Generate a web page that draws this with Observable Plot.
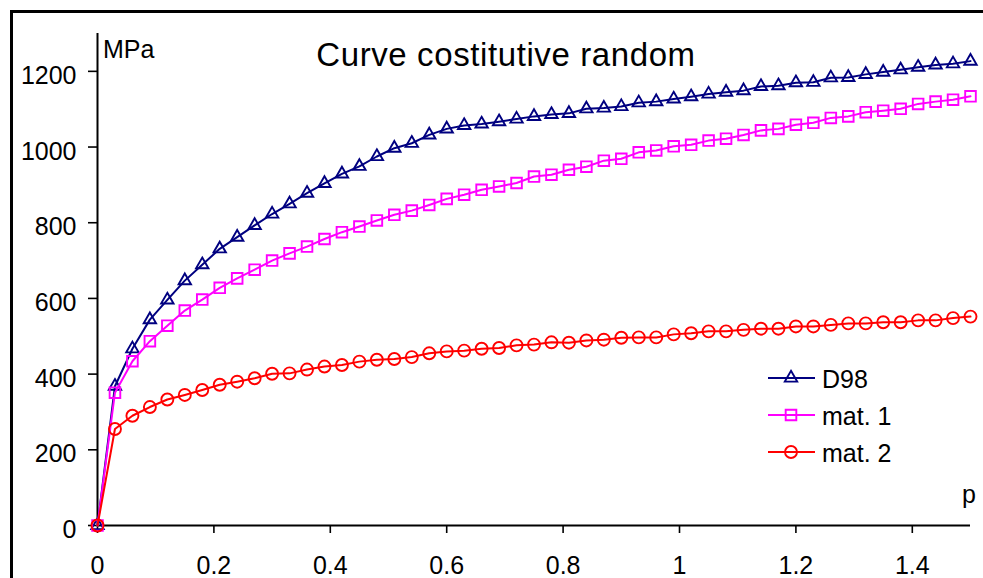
<!DOCTYPE html>
<html>
<head>
<meta charset="utf-8">
<script src="https://cdn.jsdelivr.net/npm/d3@7"></script>
<script src="https://cdn.jsdelivr.net/npm/@observablehq/plot@0.6"></script>
<style>
  html, body { margin: 0; padding: 0; background: #fff; overflow: hidden; }
  #wrap { position: relative; width: 983px; height: 578px; overflow: hidden; }
  #frame { position: absolute; left: 10px; top: 10px; width: 1200px; height: 1200px;
           border-left: 3px solid #000; border-top: 3px solid #000; pointer-events: none; }
  svg { display: block; }
</style>
</head>
<body>
<div id="wrap"></div>
<script>
// ---- data ----
const p = [0, 0.03, 0.06, 0.09, 0.12, 0.15, 0.18, 0.21, 0.24, 0.27,
           0.30, 0.33, 0.36, 0.39, 0.42, 0.45, 0.48, 0.51, 0.54, 0.57,
           0.60, 0.63, 0.66, 0.69, 0.72, 0.75, 0.78, 0.81, 0.84, 0.87,
           0.90, 0.93, 0.96, 0.99, 1.02, 1.05, 1.08, 1.11, 1.14, 1.17,
           1.20, 1.23, 1.26, 1.29, 1.32, 1.35, 1.38, 1.41, 1.44, 1.47, 1.50];

const d98 = [0, 368, 467, 544, 596, 647, 689, 731, 762, 793,
             823, 850, 878, 904, 929, 949, 975, 997, 1010, 1032,
             1048, 1057, 1061, 1067, 1074, 1081, 1086, 1089, 1101, 1103,
             1107, 1117, 1120, 1127, 1133, 1140, 1145, 1149, 1160, 1162,
             1170, 1171, 1183, 1184, 1192, 1198, 1204, 1211, 1217, 1220, 1227];

const mat1 = [0, 351, 434, 487, 528, 568, 597, 628, 653, 676,
              700, 719, 737, 757, 775, 790, 806, 821, 832, 847,
              863, 874, 887, 896, 905, 922, 927, 940, 948, 964,
              969, 986, 991, 1002, 1006, 1017, 1022, 1032, 1044, 1048,
              1059, 1064, 1077, 1081, 1092, 1096, 1101, 1114, 1120, 1125, 1134];

const mat2 = [0, 255, 290, 313, 333, 345, 358, 372, 380, 389,
              401, 402, 412, 420, 424, 433, 438, 440, 445, 455,
              460, 462, 467, 469, 476, 478, 484, 483, 489, 491,
              496, 497, 497, 505, 508, 513, 513, 517, 520, 520,
              526, 526, 530, 534, 534, 537, 537, 542, 542, 548, 552];

const seriesNames = ["D98", "mat. 1", "mat. 2"];
const seriesColors = ["#000080", "#ff00ff", "#ff0000"];
const seriesSymbols = ["triangle", "square", "circle"];
const seriesRadius = [4.6, 6.0, 6.0];

const xTicks = [0, 0.2, 0.4, 0.6, 0.8, 1, 1.2, 1.4];
const yTicks = [0, 200, 400, 600, 800, 1000, 1200];

const titleText = "Curve costitutive random";
const yUnitText = "MPa";
const xUnitText = "p";

// ---- build table ----
const allSeries = [d98, mat1, mat2];
const rows = [];
allSeries.forEach((vals, s) => vals.forEach((v, i) => rows.push({p: p[i], v, series: seriesNames[s]})));

const FONT = "'Liberation Sans', Arial, Helvetica, sans-serif";

const seriesMarks = [];
seriesNames.forEach((name, s) => {
  const data = rows.filter(d => d.series === name);
  seriesMarks.push(Plot.line(data, {x: "p", y: "v", stroke: seriesColors[s], strokeWidth: 2}));
  seriesMarks.push(Plot.dot(data, {x: "p", y: "v", stroke: seriesColors[s], fill: "none",
    symbol: seriesSymbols[s], r: seriesRadius[s], strokeWidth: 1.9}));
});

const chart = Plot.plot({
  width: 983,
  height: 578,
  marginLeft: 97,
  marginRight: 13,
  marginTop: 33,
  marginBottom: 53,
  style: {fontFamily: FONT, fontSize: "25px", color: "#000", background: "transparent", overflow: "visible"},
  x: {domain: [0, 1.5], label: null},
  y: {domain: [0, 1300], label: null},
  marks: [
    // tick marks only
    Plot.axisY({ticks: yTicks, tickSize: 9, fill: "none", strokeWidth: 1.6, label: null}),
    Plot.axisX({ticks: xTicks, tickSize: 8, fill: "none", strokeWidth: 1.6, label: null}),
    // tick labels only
    Plot.axisY({ticks: yTicks, tickSize: 0, tickPadding: 21, dy: 4.5, fontSize: 25,
      tickFormat: d => String(d), label: null}),
    Plot.axisX({ticks: xTicks, tickSize: 0, tickPadding: 31, fontSize: 25,
      tickFormat: d => String(d), label: null}),
    // axis lines
    Plot.ruleX([0], {stroke: "#000", strokeWidth: 2}),
    Plot.ruleY([0], {stroke: "#000", strokeWidth: 2}),
    ...seriesMarks
  ]
});

const svg = d3.select(chart);
svg.style("font-family", FONT);

// title
svg.append("text")
  .attr("x", 506).attr("y", 66)
  .attr("text-anchor", "middle")
  .attr("font-size", 33)
  .attr("letter-spacing", "0.6px")
  .attr("fill", "#000")
  .text(titleText);

// axis units
svg.append("text").attr("x", 103).attr("y", 58).attr("text-anchor", "start")
  .attr("font-size", 25).attr("fill", "#000").text(yUnitText);
svg.append("text").attr("x", 962).attr("y", 503).attr("text-anchor", "start")
  .attr("font-size", 25).attr("fill", "#000").text(xUnitText);

// legend
const legendRows = [378, 415, 452];
const symbolTypes = {triangle: d3.symbolTriangle, square: d3.symbolSquare, circle: d3.symbolCircle};
seriesNames.forEach((name, s) => {
  const g = svg.append("g").attr("transform", `translate(0,${legendRows[s]})`);
  g.append("line").attr("x1", 768).attr("x2", 815).attr("y1", 0).attr("y2", 0)
    .attr("stroke", seriesColors[s]).attr("stroke-width", 2);
  const r = seriesRadius[s];
  g.append("path")
    .attr("transform", "translate(791,0)")
    .attr("d", d3.symbol(symbolTypes[seriesSymbols[s]], Math.PI * r * r)())
    .attr("fill", "none").attr("stroke", seriesColors[s]).attr("stroke-width", 1.9);
  g.append("text").attr("x", 822).attr("y", 10).attr("text-anchor", "start")
    .attr("font-size", 25).attr("fill", "#000").text(name);
});

const wrap = document.getElementById("wrap");
wrap.appendChild(chart);
const frame = document.createElement("div");
frame.id = "frame";
wrap.appendChild(frame);
</script>
</body>
</html>
